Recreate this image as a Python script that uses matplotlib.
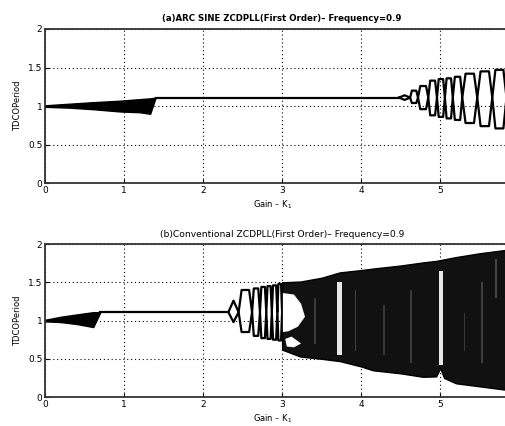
import matplotlib
matplotlib.use('Agg')
import matplotlib.pyplot as plt
from matplotlib.patches import Polygon

# ---------------- Panel (a): ARC SINE ZCDPLL ----------------
a_wedge_gain = [0.0, 0.3, 0.6, 0.95, 1.2, 1.33, 1.40]
a_wedge_hi   = [1.01, 1.03, 1.05, 1.07, 1.09, 1.10, 1.11]
a_wedge_lo   = [0.99, 0.98, 0.96, 0.93, 0.92, 0.90, 1.11]
a_flat_gain  = [1.40, 4.48]
a_flat_val   = [1.11, 1.11]
a_loop_pinch = [4.48, 4.62, 4.72, 4.85, 4.96, 5.06, 5.16, 5.28, 5.47, 5.66, 5.84, 6.0]
a_loop_hi    = [1.14, 1.20, 1.26, 1.33, 1.35, 1.36, 1.38, 1.42, 1.45, 1.47, 1.49]
a_loop_lo    = [1.08, 1.04, 0.96, 0.88, 0.86, 0.84, 0.82, 0.78, 0.74, 0.71, 0.69]

# ---------------- Panel (b): Conventional ZCDPLL ----------------
b_wedge_gain = [0.0, 0.2, 0.4, 0.61, 0.70]
b_wedge_hi   = [1.01, 1.05, 1.08, 1.11, 1.11]
b_wedge_lo   = [0.99, 0.98, 0.955, 0.915, 1.11]
b_flat_gain  = [0.70, 2.32]
b_flat_val   = [1.11, 1.11]
b_loop_pinch = [2.32, 2.45, 2.62, 2.72, 2.80, 2.87, 2.94, 3.0]
b_loop_hi    = [1.26, 1.40, 1.42, 1.44, 1.45, 1.46, 1.48]
b_loop_lo    = [0.98, 0.85, 0.80, 0.77, 0.76, 0.75, 0.74]
b_chaos_gain = [3.0, 3.23, 3.5, 3.73, 4.0, 4.15, 4.5, 4.78, 4.95, 5.0, 5.05, 5.2, 5.5, 5.8, 6.0]
b_chaos_hi   = [1.50, 1.51, 1.56, 1.63, 1.66, 1.68, 1.72, 1.76, 1.78, 1.79, 1.80, 1.83, 1.88, 1.92, 1.94]
b_chaos_lo   = [0.62, 0.53, 0.50, 0.47, 0.40, 0.35, 0.31, 0.265, 0.27, 0.38, 0.25, 0.18, 0.14, 0.10, 0.08]
# white windows inside the chaotic band (gain, period) outlines
b_window_1 = [(3.01, 1.36), (3.15, 1.34), (3.24, 1.22), (3.29, 1.05), (3.20, 0.92), (3.08, 0.86), (3.01, 0.85)]
b_window_2 = [(3.04, 0.76), (3.12, 0.79), (3.24, 0.70), (3.15, 0.65), (3.06, 0.66)]
# light streaks inside the chaotic band: (gain start, gain end), low, high, grey level
b_streak_gain = [(3.70, 3.76), (4.98, 5.03), (3.40, 3.43), (3.92, 3.94), (4.28, 4.30),
                 (4.62, 4.64), (5.30, 5.32), (5.52, 5.54), (5.70, 5.72)]
b_streak_lo   = [0.55, 0.42, 0.70, 0.60, 0.55, 0.45, 0.60, 0.45, 1.30]
b_streak_hi   = [1.50, 1.65, 1.30, 1.40, 1.20, 1.40, 1.10, 1.50, 1.80]
b_streak_grey = ['#e8e8e8', '#e8e8e8', '#3a3a3a', '#404040', '#3a3a3a', '#3a3a3a', '#3a3a3a', '#404040', '#454545']

center = 1.11
x_ticks = [0, 1, 2, 3, 4, 5]
y_ticks = [0, 0.5, 1, 1.5, 2]
y_ticklabels = ['0', '0.5', '1', '1.5', '2']


def loop_traces(pinch, hi, lo, first_diamond=True):
    ux, uy, lx, ly = [], [], [], []
    for i in range(len(hi)):
        p0, p1 = pinch[i], pinch[i + 1]
        w = p1 - p0
        f = 0.5 if (i == 0 and first_diamond) else 0.22
        xs = [p0, p0 + f * w, p1 - f * w, p1]
        ux += xs
        lx += xs
        uy += [center, hi[i], hi[i], center]
        ly += [center, lo[i], lo[i], center]
    return ux, uy, lx, ly


fig = plt.figure(figsize=(5.06, 4.26), dpi=100)
ax1 = fig.add_axes([0.089, 0.570, 0.937, 0.362])
ax2 = fig.add_axes([0.089, 0.068, 0.937, 0.359])

lw = 1.6
# panel a
ax1.fill_between(a_wedge_gain, a_wedge_lo, a_wedge_hi, color='black', linewidth=1.0, edgecolor='black')
ax1.plot(a_flat_gain, a_flat_val, color='black', lw=lw)
ux, uy, lx, ly = loop_traces(a_loop_pinch, a_loop_hi, a_loop_lo)
ax1.plot(ux, uy, color='black', lw=lw)
ax1.plot(lx, ly, color='black', lw=lw)

# panel b
ax2.fill_between(b_wedge_gain, b_wedge_lo, b_wedge_hi, color='black', linewidth=1.0, edgecolor='black')
ax2.plot(b_flat_gain, b_flat_val, color='black', lw=lw)
ux, uy, lx, ly = loop_traces(b_loop_pinch, b_loop_hi, b_loop_lo)
ax2.plot(ux, uy, color='black', lw=lw)
ax2.plot(lx, ly, color='black', lw=lw)
ax2.fill_between(b_chaos_gain, b_chaos_lo, b_chaos_hi, color='#111111', linewidth=1.0, edgecolor='black')
for poly in (b_window_1, b_window_2):
    ax2.add_patch(Polygon(poly, closed=True, facecolor='white', edgecolor='none', zorder=3))
for (g0, g1), lo, hi, gc in zip(b_streak_gain, b_streak_lo, b_streak_hi, b_streak_grey):
    ax2.fill_between([g0, g1], [lo, lo], [hi, hi], color=gc, linewidth=0, zorder=3)

titles = ['(a)ARC SINE ZCDPLL(First Order)\u2013 Frequency=0.9',
          '(b)Conventional ZCDPLL(First Order)\u2013 Frequency=0.9']
weights = ['bold', 'normal']
sizes = [6.2, 6.6]
pads = [6, 5]
for ax, t, wgt, sz, pad in zip((ax1, ax2), titles, weights, sizes, pads):
    ax.set_xlim(0, 6)
    ax.set_ylim(0, 2)
    ax.set_xticks(x_ticks)
    ax.set_yticks(y_ticks)
    ax.set_yticklabels(y_ticklabels)
    ax.tick_params(direction='in', length=3, labelsize=6.5, width=0.8, pad=2)
    ax.grid(True, linestyle=(0, (1, 2.5)), color='black', linewidth=0.8)
    ax.set_axisbelow(True)
    for s in ax.spines.values():
        s.set_linewidth(1.3)
        s.set_color('#333333')
    ax.set_title(t, fontsize=sz, fontweight=wgt, pad=pad)
    ax.set_xlabel('Gain \u2013 K$_1$', fontsize=6, labelpad=1)
    ax.set_ylabel('TDCOPeriod', fontsize=6, labelpad=4)
    ax.xaxis.set_label_coords(0.48, -0.1)

fig.savefig('out.png', dpi=100)
